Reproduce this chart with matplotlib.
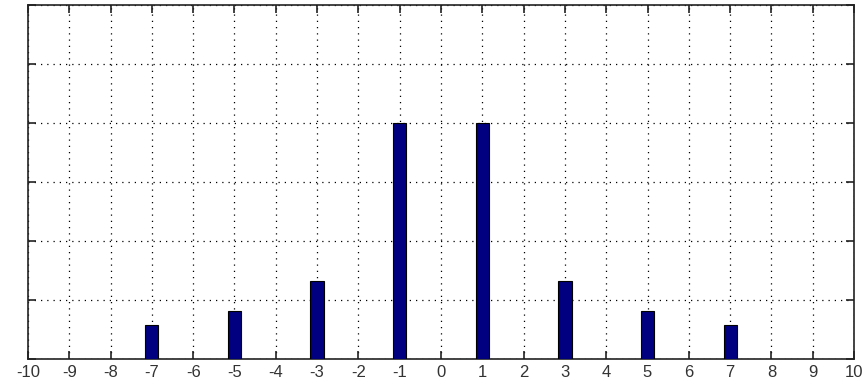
import numpy as np
import matplotlib
matplotlib.use("Agg")
import matplotlib.pyplot as plt

# harmonic positions and amplitudes
harmonics = [-7, -5, -3, -1, 1, 3, 5, 7]
amplitudes = [0.58, 0.81, 1.33, 4.0, 4.0, 1.33, 0.81, 0.58]

x_ticks = list(range(-10, 11))
y_ticks = list(range(0, 7))

plt.rcParams["font.family"] = ["Liberation Sans", "DejaVu Sans"]

fig = plt.figure(figsize=(8.63, 3.84), dpi=100)
ax = fig.add_axes([0.0324, 0.0651, 0.9572, 0.9219])

ax.bar(harmonics, amplitudes, width=0.32, color="#000080",
       edgecolor="black", linewidth=0.8, zorder=3)

ax.set_xlim(-10, 10)
ax.set_ylim(0, 6)
ax.set_xticks(x_ticks)
ax.set_xticklabels([str(v) for v in x_ticks])
ax.set_yticks(y_ticks)
ax.set_yticklabels([])

ax.grid(True, linestyle=(0, (1, 4)), color="black", linewidth=0.9)
ax.set_axisbelow(True)
ax.tick_params(direction="in", length=6, width=1.2, top=True, right=True,
               labelsize=12, pad=4, colors="#222222", labelcolor="#333333")
for sp in ax.spines.values():
    sp.set_linewidth(1.2)
    sp.set_color("#222222")

fig.savefig("out.png", dpi=100)
